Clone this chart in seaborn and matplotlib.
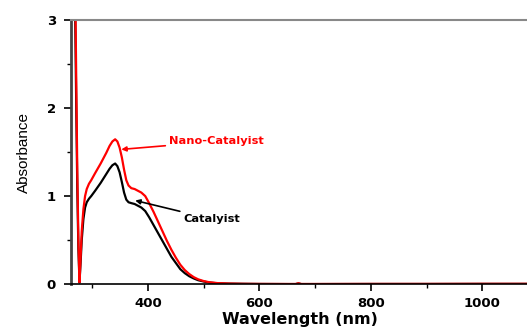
import numpy as np
import pandas as pd
import matplotlib
matplotlib.use('Agg')
import matplotlib.pyplot as plt
from matplotlib.ticker import MultipleLocator
import seaborn as sns

wavelength = [262, 266, 269, 271, 273, 275, 277, 279, 281, 284, 287, 290, 294, 298, 305,
              315, 325, 331, 336, 341, 345, 349, 353, 357, 361, 365, 370, 376, 382, 388,
              395, 402, 410, 418, 426, 434, 442, 450, 458, 466, 474, 482, 490, 500, 510,
              525, 545, 570, 600, 650, 665, 670, 675, 700, 800, 900, 1000, 1085]
nano_catalyst = [6.0, 5.0, 3.6, 2.4, 1.3, 0.5, 0.02, 0.3, 0.6, 0.85, 1.0, 1.08, 1.14, 1.18, 1.26,
                 1.37, 1.49, 1.57, 1.62, 1.645, 1.62, 1.55, 1.44, 1.3, 1.18, 1.12, 1.09, 1.08, 1.06, 1.04,
                 1.0, 0.92, 0.82, 0.71, 0.6, 0.49, 0.39, 0.3, 0.22, 0.16, 0.115, 0.08, 0.055, 0.035, 0.022,
                 0.012, 0.007, 0.004, 0.003, 0.002, 0.002, 0.01, 0.002, 0.002, 0.003, 0.003, 0.004, 0.004]
catalyst = [5.5, 4.5, 3.2, 2.1, 1.1, 0.4, 0.02, 0.25, 0.5, 0.74, 0.87, 0.93, 0.97, 1.0, 1.06,
            1.15, 1.25, 1.31, 1.35, 1.37, 1.34, 1.27, 1.16, 1.04, 0.96, 0.93, 0.92, 0.91, 0.89, 0.87,
            0.83, 0.76, 0.67, 0.58, 0.49, 0.4, 0.31, 0.24, 0.17, 0.125, 0.09, 0.065, 0.045, 0.03, 0.018,
            0.01, 0.006, 0.004, 0.002, 0.001, 0.001, 0.008, 0.001, 0.001, 0.002, 0.002, 0.003, 0.003]

df = pd.DataFrame({'wavelength': wavelength, 'Nano-Catalyist': nano_catalyst, 'Catalyist': catalyst})

sns.set_style('ticks')
plt.rcParams['font.family'] = ['DejaVu Sans']
plt.rcParams['text.color'] = 'black'
plt.rcParams['axes.labelcolor'] = 'black'
plt.rcParams['xtick.color'] = 'black'
plt.rcParams['ytick.color'] = 'black'

fig = plt.figure(figsize=(5.27, 3.27), dpi=100)
ax = fig.add_axes([0.135, 0.131, 0.87, 0.808])

sns.lineplot(data=df, x='wavelength', y='Catalyist', color='black', lw=1.6, ax=ax)
sns.lineplot(data=df, x='wavelength', y='Nano-Catalyist', color='red', lw=1.6, ax=ax)

ax.set_xlim(262, 1085)
ax.set_ylim(0, 3)
ax.xaxis.set_major_locator(MultipleLocator(200))
ax.xaxis.set_minor_locator(MultipleLocator(100))
ax.yaxis.set_major_locator(MultipleLocator(1))
ax.yaxis.set_minor_locator(MultipleLocator(0.5))
ax.tick_params(which='major', length=5, width=1.2, labelsize=9.5, pad=4)
ax.tick_params(axis='y', which='major', pad=6)
ax.tick_params(which='minor', length=3, width=1.0)
for lab in ax.get_xticklabels() + ax.get_yticklabels():
    lab.set_fontweight('bold')

ax.spines['right'].set_visible(False)
ax.spines['left'].set_color('#444444')
ax.spines['left'].set_linewidth(2)
ax.spines['top'].set_color('#888888')
ax.spines['top'].set_linewidth(1.5)
ax.spines['bottom'].set_color('black')
ax.spines['bottom'].set_linewidth(1.2)

ax.set_xlabel('Wavelength (nm)', fontsize=11.5, fontweight='bold', labelpad=2)
ax.set_ylabel('Absorbance', fontsize=11, family='Liberation Sans', labelpad=11)

ax.annotate('Nano-Catalyist', xy=(352, 1.53), xytext=(522, 1.62), color='red',
            fontsize=8.2, fontweight='bold', ha='center', va='center',
            arrowprops=dict(arrowstyle='-|>', color='red', lw=1.2, mutation_scale=7,
                            shrinkA=0, shrinkB=0))
ax.annotate('Catalyist', xy=(377, 0.95), xytext=(463, 0.74), color='black',
            fontsize=8.2, fontweight='bold', ha='left', va='center',
            arrowprops=dict(arrowstyle='-|>', color='black', lw=1.2, mutation_scale=7,
                            shrinkA=0, shrinkB=0))

fig.savefig('out.png', dpi=100)
plt.close(fig)
